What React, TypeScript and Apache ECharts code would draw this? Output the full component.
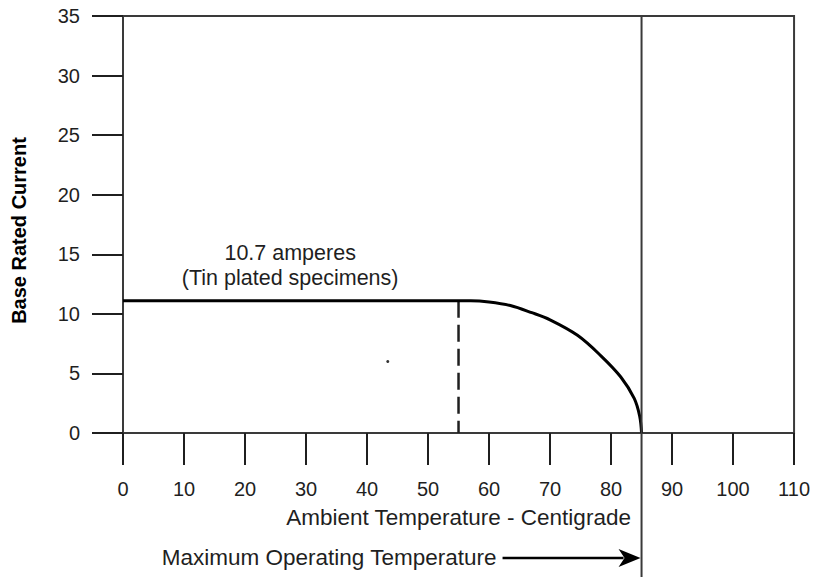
import React, { useEffect, useRef } from "react";
import * as echarts from "echarts";

// Derating curve (temperature in °C, base rated current in A)
const temperature = [0, 57, 60, 63.5, 67, 70, 74.5, 78.3, 81.6, 83.8, 84.7, 85];
const current = [11.1, 11.1, 11.0, 10.7, 10.1, 9.5, 8.2, 6.5, 4.7, 2.9, 1.4, 0];

// Dashed reference at start of derating
const derateTemp = [55, 55];
const derateCurrent = [11.1, 0];

// Maximum operating temperature
const maxOperatingTemp = 85;

// Stray speck in the plot
const speck = [[43.4, 6.0]];

// Annotation position (data coordinates)
const noteAt = [[27.4, 14.1]];
const noteLines = ["10.7 amperes", "(Tin plated specimens)"];

const FONT = "'Liberation Sans', Arial, Helvetica, sans-serif";
const INK = "#1f1f1f";

export default function App() {
  const ref = useRef<HTMLDivElement>(null);

  useEffect(() => {
    if (!ref.current) return;
    const chart = echarts.init(ref.current, undefined, { renderer: "svg" });
    chart.setOption({
      animation: false,
      backgroundColor: "#ffffff",
      grid: {
        left: 123,
        right: 18,
        top: 16,
        bottom: 146,
        show: true,
        borderColor: "#3a3a3a",
        borderWidth: 2,
        backgroundColor: "transparent",
      },
      xAxis: {
        type: "value",
        min: 0,
        max: 110,
        interval: 10,
        name: "Ambient Temperature - Centigrade",
        nameLocation: "middle",
        nameGap: 73,
        nameTextStyle: { fontFamily: FONT, fontSize: 22.5, color: INK },
        axisLine: { show: true, lineStyle: { color: "#3a3a3a", width: 2 } },
        axisTick: { show: true, length: 32, lineStyle: { color: INK, width: 2 } },
        axisLabel: { margin: 46, fontFamily: FONT, fontSize: 20, color: INK },
        splitLine: { show: false },
      },
      yAxis: {
        type: "value",
        min: 0,
        max: 35,
        interval: 5,
        name: "Base Rated Current",
        nameLocation: "middle",
        nameRotate: 90,
        nameGap: 94,
        nameTextStyle: {
          fontFamily: FONT,
          fontSize: 20,
          fontWeight: "bold",
          color: "#000",
          padding: [0, 12, 0, 0],
        },
        axisLine: { show: true, lineStyle: { color: "#3a3a3a", width: 2 } },
        axisTick: { show: true, length: 31, lineStyle: { color: INK, width: 2 } },
        axisLabel: { margin: 43, fontFamily: FONT, fontSize: 20, color: INK },
        splitLine: { show: false },
      },
      series: [
        {
          type: "line",
          data: temperature.map((t, i) => [t, current[i]]),
          smooth: 0.35,
          showSymbol: false,
          lineStyle: { color: "#000", width: 3 },
          z: 5,
        },
        {
          type: "line",
          data: derateTemp.map((t, i) => [t, derateCurrent[i]]),
          showSymbol: false,
          lineStyle: { color: INK, width: 2.5, type: [17, 7] },
        },
        {
          type: "scatter",
          data: speck,
          symbolSize: 3,
          itemStyle: { color: "#333", opacity: 1 },
        },
        {
          type: "scatter",
          data: noteAt,
          symbolSize: 0,
          itemStyle: { opacity: 1, color: "transparent" },
          label: {
            show: true,
            position: "inside",
            formatter: noteLines.join("\n"),
            fontFamily: FONT,
            fontSize: 21.5,
            lineHeight: 25,
            color: INK,
            opacity: 1,
            textBorderWidth: 0,
            align: "center",
          },
        },
      ],
    });

    const px = chart.convertToPixel({ xAxisIndex: 0 }, maxOperatingTemp) as number;
    const yTop = chart.convertToPixel({ yAxisIndex: 0 }, 35) as number;
    const arrowY = 558;
    chart.setOption({
      graphic: [
        {
          type: "line",
          shape: { x1: px, y1: yTop, x2: px, y2: 577 },
          style: { stroke: "#3a3a3a", lineWidth: 2 },
          z: 10,
        },
        {
          type: "line",
          shape: { x1: px - 139, y1: arrowY, x2: px - 18, y2: arrowY },
          style: { stroke: "#000", lineWidth: 2.5 },
          z: 10,
        },
        {
          type: "polygon",
          shape: {
            points: [
              [px - 23, arrowY - 9],
              [px - 1, arrowY],
              [px - 23, arrowY + 9],
              [px - 17, arrowY],
            ],
          },
          style: { fill: "#000" },
          z: 10,
        },
        {
          type: "text",
          x: px - 145,
          y: arrowY - 1,
          style: {
            text: "Maximum Operating Temperature",
            fontFamily: FONT,
            fontSize: 22.5,
            fill: INK,
            align: "right",
            verticalAlign: "middle",
          },
          z: 10,
        },
      ],
    });

    return () => chart.dispose();
  }, []);

  return (
    <div
      ref={ref}
      style={{ position: "fixed", left: 0, top: 0, width: 813, height: 579, background: "#fff" }}
    />
  );
}
